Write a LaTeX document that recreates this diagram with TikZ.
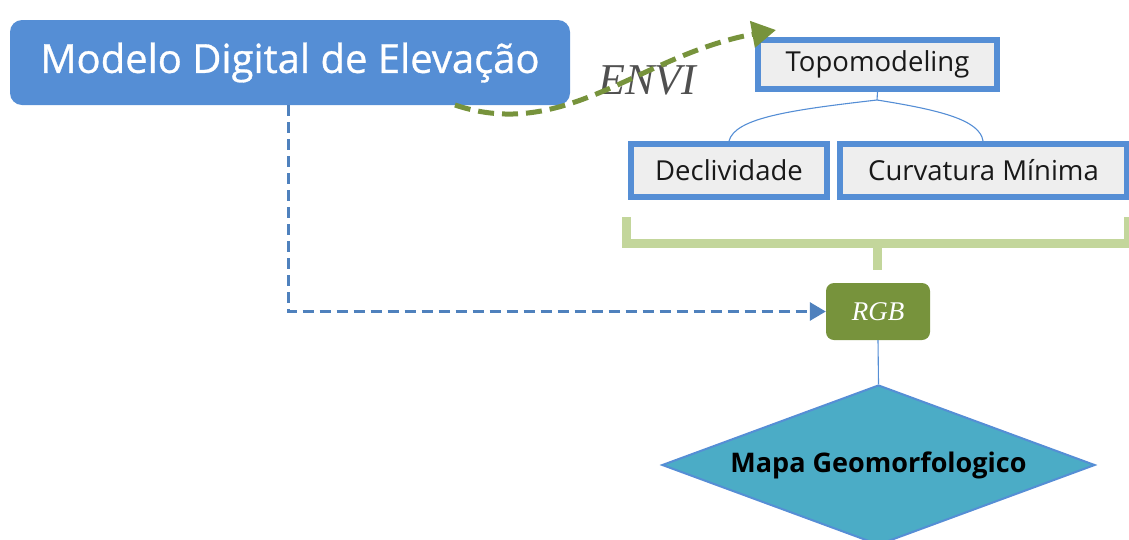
\documentclass[tikz,border=0pt]{standalone}
\usepackage{fontspec}
\setmainfont{Open Sans}
\newfontfamily\serifit{Liberation Serif}
\newfontfamily\semisans[FakeBold=0.8]{Open Sans}
\usetikzlibrary{shapes.geometric,arrows.meta}
\definecolor{mdeblue}{HTML}{558ED5}
\definecolor{boxfill}{HTML}{EEEEEE}
\definecolor{dashblue}{HTML}{4F81BD}
\definecolor{olive}{HTML}{77933C}
\definecolor{lightgreen}{HTML}{C3D69B}
\definecolor{teal}{HTML}{4BACC6}
\definecolor{envigray}{HTML}{505050}
\tikzset{
  x=1pt, y=-1pt,
  mainbox/.style={rounded corners=12pt, fill=mdeblue, draw=none, text=white,
    minimum width=560pt, minimum height=85pt, inner sep=0pt, font=\semisans\fontsize{40}{44}\selectfont},
  toolbox/.style={draw=mdeblue, line width=6pt, fill=boxfill, text=black!90,
    inner sep=0pt, font=\fontsize{27.5}{30}\selectfont},
  rgbbox/.style={rounded corners=8pt, fill=olive, text=white, minimum width=104pt,
    minimum height=57pt, inner sep=0pt, font=\serifit\itshape\fontsize{27}{30}\selectfont},
  mapa/.style={diamond, aspect=2.706, fill=teal, draw=mdeblue, line width=2pt, minimum width=433pt,
    minimum height=160pt, inner sep=0pt, font=\bfseries\fontsize{27}{30}\selectfont},
  thin/.style={draw=mdeblue, line width=1.1pt},
  bluedash/.style={draw=dashblue, line width=3pt, dash pattern=on 11pt off 6pt,
    -{Triangle[length=16pt,width=18pt]}},
  greendash/.style={draw=olive, line width=5pt, dash pattern=on 16pt off 8pt,
    -{Triangle[length=24pt,width=26pt]}},
  bracket/.style={draw=lightgreen, line width=9pt},
}
\begin{document}
\begin{tikzpicture}
\useasboundingbox (0,0) rectangle (1129,539);
\node[mainbox] (mde) at (290,62.5) {Modelo Digital de Elevação};
\node[toolbox, minimum width=239pt, minimum height=49pt] (topo) at (877.5,64.5) {Topomodeling};
\node[toolbox, minimum width=196pt, minimum height=53pt] (decl) at (729,170.5) {Declividade};
\node[toolbox, minimum width=287pt, minimum height=53pt] (curv) at (983.5,170.5) {Curvatura Mínima};
\node[rgbbox] (rgb) at (878,311.5) {RGB};
\node[mapa] (map) at (878.5,465) {Mapa Geomorfologico};
\node[font=\serifit\itshape\fontsize{44}{50}\selectfont, text=envigray] (envi) at (647,80) {ENVI};
% tree connector
\coordinate (junc) at (877,100);
\draw[thin] (topo.south) -- (junc);
\draw[thin] (junc) .. controls (790,110) and (735,118) .. (decl.north);
\draw[thin] (junc) .. controls (940,110) and (980,120) .. (curv.north -| 983,0);
% bracket
\coordinate (bl) at (626,217);
\coordinate (br) at (1128,217);
\coordinate (bm) at (877,243);
\coordinate (bs) at (877,270);
\draw[bracket] (bl) -- (bl |- bm) -- (br |- bm) -- (br);
\draw[bracket] (bm) -- (bs);
% connectors
\draw[thin] (rgb.south) -- (map.north);
\coordinate (mdedrop) at (288,105);
\draw[bluedash] (mdedrop) |- (rgb.west);
\coordinate (gstart) at (455,105);
\draw[greendash] (gstart) .. controls (565,142) and (640,55) .. (776,30);
\end{tikzpicture}
\end{document}
